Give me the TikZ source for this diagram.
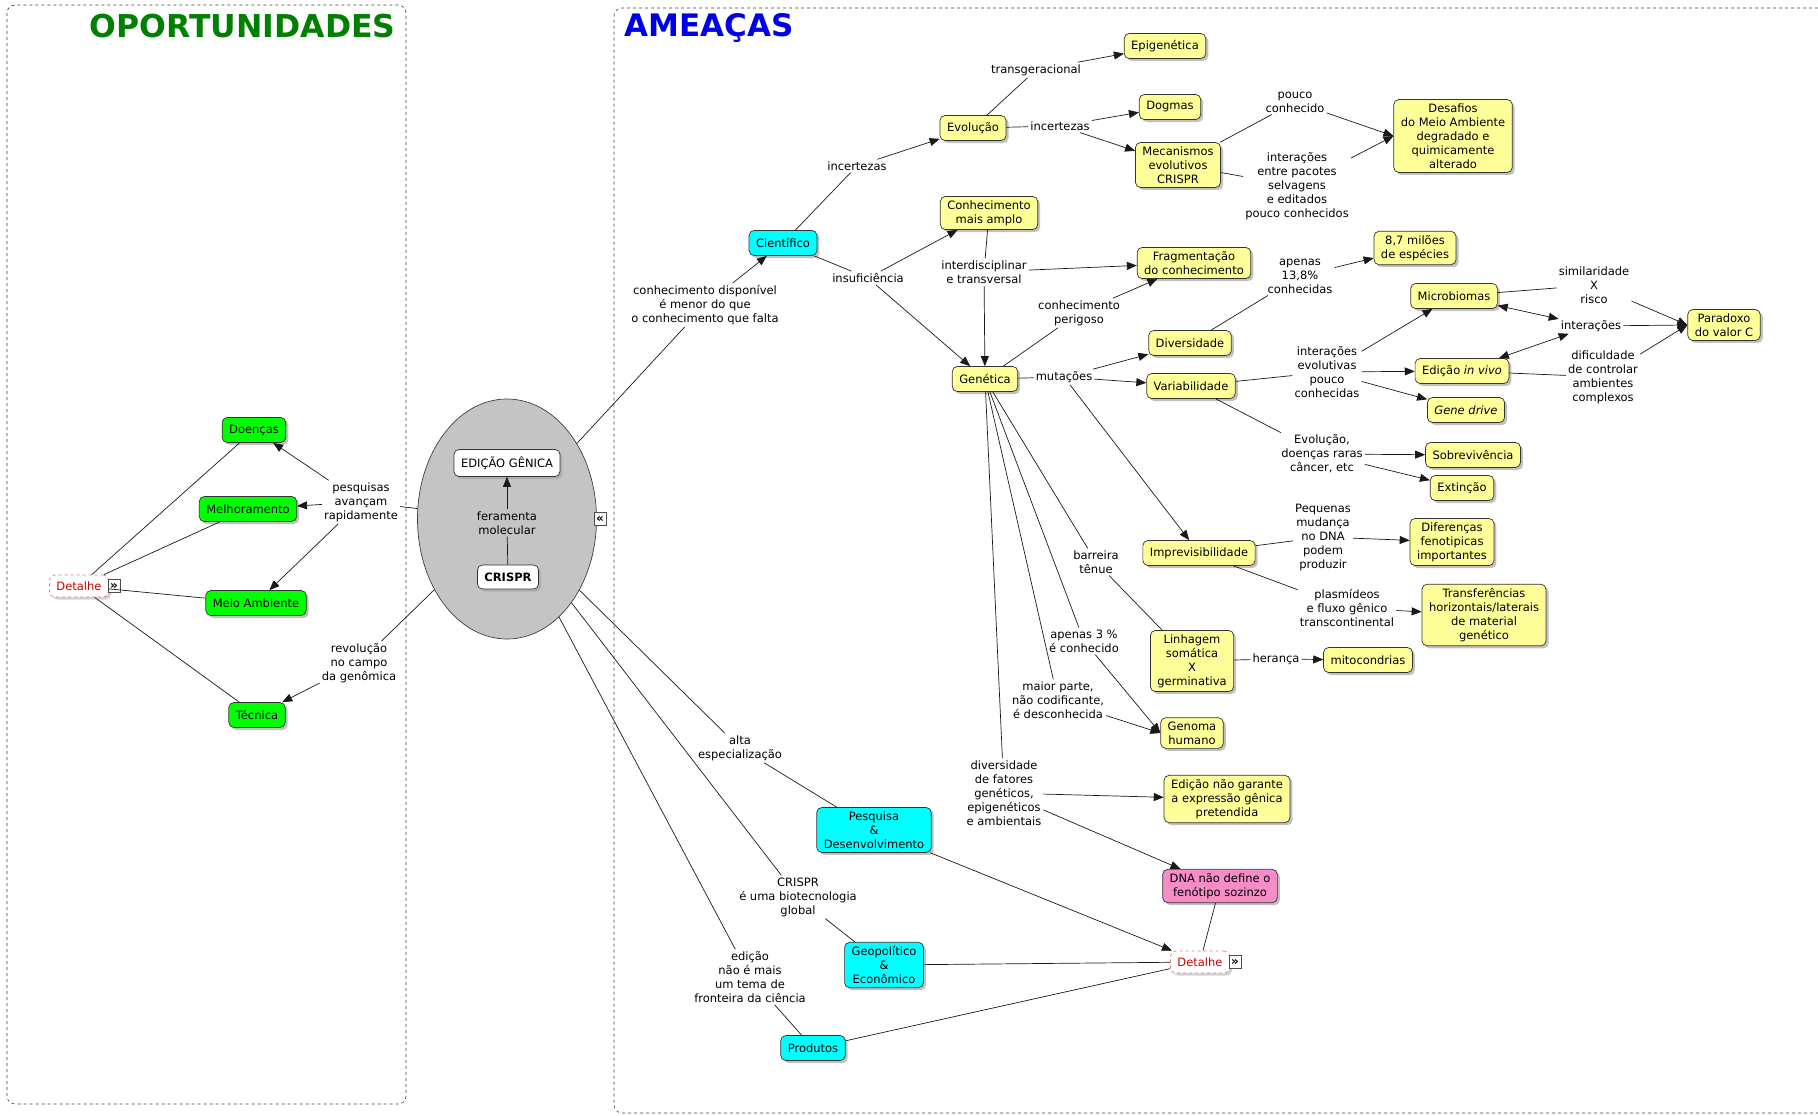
\documentclass[tikz,border=0pt]{standalone}
\usepackage{fontspec}
\setmainfont{DejaVu Sans}
\usetikzlibrary{arrows.meta,shapes.geometric,shadows}

\definecolor{yelbox}{RGB}{255,255,153}
\definecolor{grnbox}{RGB}{0,255,0}
\definecolor{cynbox}{RGB}{0,255,255}
\definecolor{pnkbox}{RGB}{247,141,199}
\definecolor{hubgray}{RGB}{196,196,196}
\definecolor{titlegreen}{RGB}{0,128,0}
\definecolor{titleblue}{RGB}{0,0,230}
\definecolor{detred}{RGB}{204,0,0}
\definecolor{detborder}{RGB}{225,120,145}
\definecolor{edgecol}{RGB}{25,25,25}

\begin{document}
\begin{tikzpicture}[x=1pt,y=-1pt,
  font=\fontsize{11.5pt}{14pt}\selectfont,
  box/.style={draw=black!80, rounded corners=5pt, align=center,
    inner xsep=7pt, inner ysep=4pt, minimum height=25pt, line width=0.7pt,
    drop shadow={shadow xshift=2.5pt, shadow yshift=-2.5pt, fill=black!35, opacity=0.7}},
  yel/.style={box, fill=yelbox},
  grn/.style={box, fill=grnbox},
  cyn/.style={box, fill=cynbox},
  pnk/.style={box, fill=pnkbox},
  wht/.style={box, fill=white},
  lbl/.style={align=center, inner sep=2pt},
  link/.style={draw=edgecol, line width=0.7pt},
  arr/.style={link, -{Triangle[length=10pt,width=8pt]}},
  twoway/.style={link, {Triangle[length=10pt,width=8pt]}-{Triangle[length=10pt,width=8pt]}},
  detail/.style={draw=detborder, dashed, rounded corners=5pt, fill=white,
    text=detred, inner xsep=7pt, inner ysep=3pt, minimum height=22pt, line width=0.7pt,
    drop shadow={shadow xshift=2.5pt, shadow yshift=-2.5pt, fill=black!25, opacity=0.7}},
  icon/.style={draw=black!70, fill=white, inner sep=0pt,
    font=\fontsize{12pt}{12pt}\selectfont\bfseries, minimum width=12pt, minimum height=13pt},
  panel/.style={draw=black!75, dashed, line width=0.6pt, rounded corners=8pt}
]
\useasboundingbox (0,0) rectangle (1818,1116);

% ---------- panels and titles ----------
\draw[panel] (7,5) rectangle (406,1104);
\draw[panel] (1818,8) -- (614,8) -- (614,1113) -- (1818,1113);
\node[font=\fontsize{31.5pt}{32pt}\selectfont\bfseries, text=titlegreen, anchor=east] (tOp) at (399,26) {OPORTUNIDADES};
\node[font=\fontsize{31pt}{32pt}\selectfont\bfseries, text=titleblue, anchor=west] (tAm) at (621,28) {AMEAÇAS};

% ---------- central hub ----------
\node[ellipse, draw=black!75, fill=hubgray, line width=0.7pt,
      minimum width=179pt, minimum height=240pt, inner sep=0pt] (hub) at (507,519) {};
\node[wht, minimum height=27pt] (edicao) at (507,463) {EDIÇÃO GÊNICA};
\node[wht, minimum height=24pt, font=\fontsize{11.5pt}{14pt}\selectfont\bfseries] (crispr) at (508,577) {CRISPR};
\node[lbl] (lFer) at (507,523) {feramenta\\molecular};
\node[icon] (hubIcon) at (600,519) {«};

% ---------- opportunities ----------
\node[grn] (doencas) at (254,430) {Doenças};
\node[grn] (melhor) at (248,509) {Melhoramento};
\node[grn] (meioamb) at (256,603) {Meio Ambiente};
\node[grn] (tecnica) at (257,715) {Técnica};
\node[detail] (detL) at (79,586) {Detalhe};
\node[icon] (detLIcon) at (114,586) {»};
\node[lbl] (lPesq) at (361,502) {pesquisas\\avançam\\rapidamente};
\node[lbl] (lRev) at (359,663) {revolução\\no campo\\da genômica};

% ---------- threats: concepts ----------
\node[cyn] (cient) at (783,243) {Científico};
\node[yel] (evol) at (973,128) {Evolução};
\node[yel] (epig) at (1165,46) {Epigenética};
\node[yel] (dogmas) at (1170,107) {Dogmas};
\node[yel] (mecan) at (1178,165) {Mecanismos\\evolutivos\\CRISPR};
\node[yel] (desaf) at (1453,136) {Desafios\\do Meio Ambiente\\degradado e\\quimicamente\\alterado};
\node[yel] (conhec) at (989,213) {Conhecimento\\mais amplo};
\node[yel] (fragm) at (1194,263) {Fragmentação\\do conhecimento};
\node[yel] (especies) at (1415,248) {8,7 milões\\de espécies};
\node[yel] (genet) at (985,379) {Genética};
\node[yel] (divers) at (1190,343) {Diversidade};
\node[yel] (variab) at (1191,386) {Variabilidade};
\node[yel] (microb) at (1454,296) {Microbiomas};
\node[yel] (invivo) at (1462,371) {Edição \textit{in vivo}};
\node[yel] (genedr) at (1466,410) {\textit{Gene drive}};
\node[yel] (parad) at (1724,325) {Paradoxo\\do valor C};
\node[yel] (sobrev) at (1473,455) {Sobrevivência};
\node[yel] (extinc) at (1462,488) {Extinção};
\node[yel] (imprev) at (1199,553) {Imprevisibilidade};
\node[yel] (difer) at (1452,542) {Diferenças\\fenotipicas\\importantes};
\node[yel] (transf) at (1484,615) {Transferências\\horizontais/laterais\\de material\\genético};
\node[yel] (linhag) at (1192,661) {Linhagem\\somática\\X\\germinativa};
\node[yel] (mitoc) at (1368,660) {mitocondrias};
\node[yel] (genoma) at (1192,733) {Genoma\\humano};
\node[yel] (naogar) at (1227,799) {Edição não garante\\a expressão gênica\\pretendida};
\node[pnk] (dnanao) at (1220,886) {DNA não define o\\fenótipo sozinzo};
\node[detail] (detR) at (1200,962) {Detalhe};
\node[icon] (detRIcon) at (1235,962) {»};
\node[cyn] (pesqdes) at (874,830) {Pesquisa\\\&\\Desenvolvimento};
\node[cyn] (geopol) at (884,965) {Geopolítico\\\&\\Econômico};
\node[cyn] (produt) at (813,1048) {Produtos};

% ---------- threats: linking phrases ----------
\node[lbl] (lDisp) at (705,305) {conhecimento disponível\\é menor do que\\o conhecimento que falta};
\node[lbl] (lInc1) at (857,166) {incertezas};
\node[lbl] (lInsuf) at (868,278) {insuficiência};
\node[lbl] (lTrans) at (1036,70) {transgeracional};
\node[lbl] (lInc2) at (1060,126) {incertezas};
\node[lbl] (lPouco) at (1295,102) {pouco\\conhecido};
\node[lbl] (lPacot) at (1297,186) {interações\\entre pacotes\\selvagens\\e editados\\pouco conhecidos};
\node[lbl] (lInter) at (984,272) {interdisciplinar\\e transversal};
\node[lbl] (lPerig) at (1079,313) {conhecimento\\perigoso};
\node[lbl] (lMut) at (1064,377) {mutações};
\node[lbl] (l138) at (1300,276) {apenas\\13,8\%\\conhecidas};
\node[lbl] (lSimil) at (1594,285) {similaridade\\X\\risco};
\node[lbl] (lInteR) at (1591,326) {interações};
\node[lbl] (lDific) at (1603,377) {dificuldade\\de controlar\\ambientes\\complexos};
\node[lbl] (lEvolu) at (1327,372) {interações\\evolutivas\\pouco\\conhecidas};
\node[lbl] (lDoenc) at (1322,454) {Evolução,\\doenças raras\\câncer, etc};
\node[lbl] (lPeq) at (1323,537) {Pequenas\\mudança\\no DNA\\podem\\produzir};
\node[lbl] (lPlasm) at (1347,608) {plasmídeos\\e fluxo gênico\\transcontinental};
\node[lbl] (lBarr) at (1096,562) {barreira\\tênue};
\node[lbl] (lHeran) at (1276,659) {herança};
\node[lbl] (l3pc) at (1084,641) {apenas 3 \%\\é conhecido};
\node[lbl] (lMaior) at (1058,700) {maior parte,\\não codificante,\\é desconhecida};
\node[lbl] (lFator) at (1004,793) {diversidade\\de fatores\\genéticos,\\epigenéticos\\e ambientais};
\node[lbl] (lAlta) at (740,748) {alta\\especialização};
\node[lbl] (lGlob) at (798,897) {CRISPR\\é uma biotecnologia\\global};
\node[lbl] (lFront) at (750,977) {edição\\não é mais\\um tema de\\fronteira da ciência};

% ---------- connectors: hub ----------
\draw[link] (crispr) -- (lFer);
\draw[arr] (lFer) -- (edicao);
\draw[link] (hub) -- (lPesq);
\draw[arr] (lPesq) -- (doencas);
\draw[arr] (lPesq) -- (melhor);
\draw[arr] (lPesq) -- (meioamb);
\draw[link] (hub) -- (lRev);
\draw[arr] (lRev) -- (tecnica);
\draw[link] (detL) -- (doencas);
\draw[link] (detL) -- (melhor);
\draw[link] (detL) -- (meioamb);
\draw[link] (detL) -- (tecnica);
\draw[link] (hub) -- (lDisp);
\draw[arr] (lDisp) -- (cient);
\draw[link] (hub) -- (lAlta);
\draw[link] (lAlta) -- (pesqdes);
\draw[link] (hub) -- (lGlob);
\draw[link] (lGlob) -- (geopol);
\draw[link] (hub) -- (lFront);
\draw[link] (lFront) -- (produt);
\draw[arr] (pesqdes) -- (detR);
\draw[link] (geopol) -- (detR);
\draw[link] (produt) -- (detR);
\draw[link] (dnanao) -- (detR);

% ---------- connectors: scientific branch ----------
\draw[link] (cient) -- (lInc1);
\draw[arr] (lInc1) -- (evol);
\draw[link] (cient) -- (lInsuf);
\draw[arr] (lInsuf) -- (conhec);
\draw[arr] (lInsuf) -- (genet);
\draw[link] (evol) -- (lTrans);
\draw[arr] (lTrans) -- (epig);
\draw[link] (evol) -- (lInc2);
\draw[arr] (lInc2) -- (dogmas);
\draw[arr] (lInc2) -- (mecan);
\draw[link] (mecan) -- (lPouco);
\draw[arr] (lPouco) -- (desaf.west);
\draw[link] (mecan) -- (lPacot);
\draw[arr] (lPacot) -- (desaf.west);
\draw[link] (conhec) -- (lInter);
\draw[arr] (lInter) -- (fragm);
\draw[arr] (lInter) -- (genet);
\draw[link] (genet) -- (lPerig);
\draw[arr] (lPerig) -- (fragm);

% ---------- connectors: genetics ----------
\draw[link] (genet) -- (lMut);
\draw[arr] (lMut) -- (divers);
\draw[arr] (lMut) -- (variab);
\draw[arr] (lMut) -- (imprev);
\draw[link] (divers) -- (l138);
\draw[arr] (l138) -- (especies);
\draw[link] (variab) -- (lEvolu);
\draw[arr] (lEvolu) -- (microb);
\draw[arr] (lEvolu) -- (invivo);
\draw[arr] (lEvolu) -- (genedr);
\draw[link] (microb) -- (lSimil);
\draw[arr] (lSimil) -- (parad.west);
\draw[twoway] (microb) -- (lInteR);
\draw[twoway] (invivo) -- (lInteR);
\draw[arr] (lInteR) -- (parad.west);
\draw[link] (invivo) -- (lDific);
\draw[arr] (lDific) -- (parad.west);
\draw[link] (variab) -- (lDoenc);
\draw[arr] (lDoenc) -- (sobrev);
\draw[arr] (lDoenc) -- (extinc);
\draw[link] (imprev) -- (lPeq);
\draw[arr] (lPeq) -- (difer);
\draw[link] (imprev) -- (lPlasm);
\draw[arr] (lPlasm) -- (transf);
\draw[link] (genet) -- (lBarr);
\draw[link] (lBarr) -- (linhag);
\draw[link] (linhag) -- (lHeran);
\draw[arr] (lHeran) -- (mitoc);
\draw[link] (genet) -- (l3pc);
\draw[arr] (l3pc) -- (genoma.west);
\draw[link] (genet) -- (lMaior);
\draw[arr] (lMaior) -- (genoma.west);
\draw[link] (genet) -- (lFator);
\draw[arr] (lFator) -- (naogar);
\draw[arr] (lFator) -- (dnanao);
\end{tikzpicture}
\end{document}
